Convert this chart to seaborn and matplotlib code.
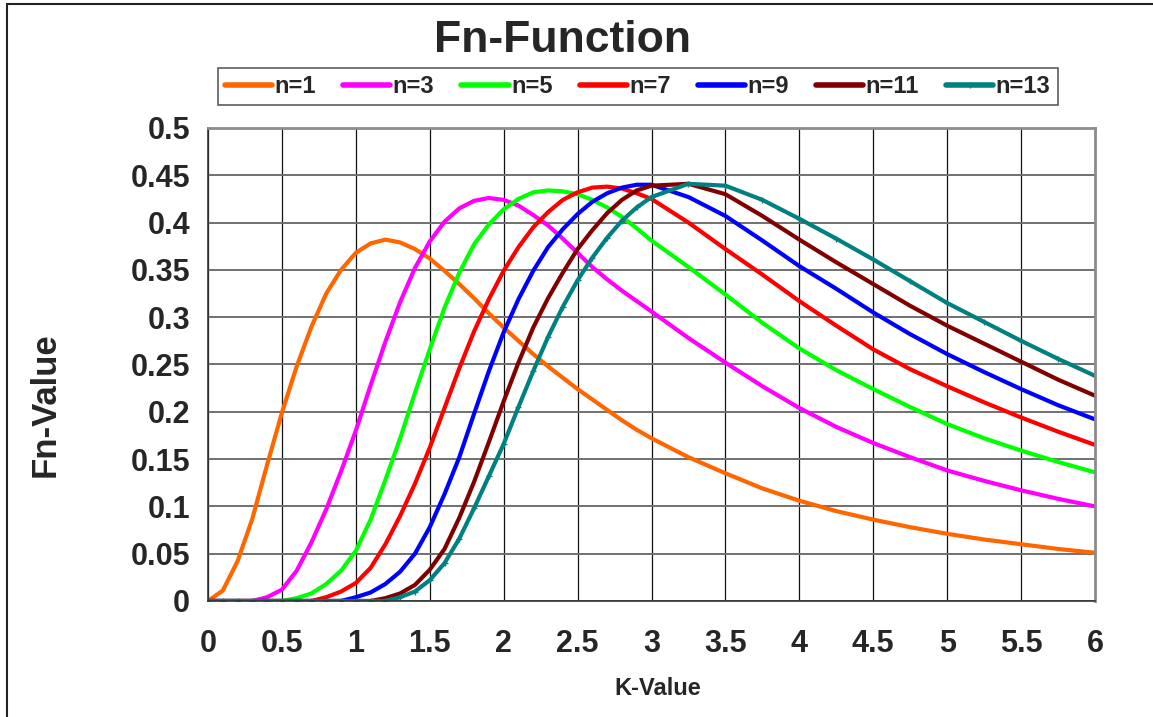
import numpy as np
import pandas as pd
import matplotlib
matplotlib.use("Agg")
import matplotlib.pyplot as plt
import seaborn as sns
from matplotlib.lines import Line2D

# --- DATA ---
K = [0.0, 0.1, 0.2, 0.3, 0.4, 0.5, 0.6, 0.7, 0.8, 0.9,
     1.0, 1.1, 1.2, 1.3, 1.4, 1.5, 1.6, 1.7, 1.8, 1.9,
     2.0, 2.1, 2.2, 2.3, 2.4, 2.5, 2.6, 2.7, 2.8, 2.9,
     3.0, 3.25, 3.5, 3.75, 4.0, 4.25, 4.5, 4.75, 5.0, 5.25,
     5.5, 5.75, 6.0]

n1 = [0.000, 0.011, 0.042, 0.087, 0.144, 0.199, 0.248, 0.290, 0.325, 0.350,
      0.368, 0.378, 0.382, 0.379, 0.372, 0.362, 0.349, 0.335, 0.320, 0.304,
      0.289, 0.275, 0.261, 0.248, 0.236, 0.224, 0.213, 0.202, 0.191, 0.181,
      0.172, 0.152, 0.135, 0.119, 0.106, 0.095, 0.086, 0.078, 0.071, 0.065,
      0.060, 0.055, 0.051]
n3 = [0.000, 0.000, 0.000, 0.000, 0.004, 0.012, 0.032, 0.062, 0.097, 0.137,
      0.180, 0.228, 0.274, 0.316, 0.352, 0.380, 0.401, 0.415, 0.423, 0.426,
      0.424, 0.418, 0.408, 0.397, 0.383, 0.368, 0.353, 0.340, 0.328, 0.317,
      0.306, 0.278, 0.252, 0.227, 0.204, 0.184, 0.167, 0.152, 0.138, 0.127,
      0.117, 0.108, 0.100]
n5 = [0.000, 0.000, 0.000, 0.000, 0.000, 0.000, 0.003, 0.008, 0.018, 0.032,
      0.053, 0.086, 0.128, 0.172, 0.220, 0.266, 0.310, 0.347, 0.377, 0.398,
      0.414, 0.425, 0.432, 0.434, 0.433, 0.430, 0.424, 0.416, 0.406, 0.394,
      0.381, 0.353, 0.324, 0.294, 0.267, 0.244, 0.224, 0.205, 0.187, 0.172,
      0.159, 0.147, 0.136]
n7 = [0.000, 0.000, 0.000, 0.000, 0.000, 0.000, 0.000, 0.000, 0.004, 0.010,
      0.019, 0.035, 0.060, 0.090, 0.124, 0.162, 0.204, 0.246, 0.285, 0.319,
      0.349, 0.374, 0.395, 0.411, 0.424, 0.432, 0.437, 0.438, 0.436, 0.431,
      0.425, 0.400, 0.372, 0.345, 0.317, 0.291, 0.266, 0.245, 0.227, 0.210,
      0.194, 0.179, 0.165]
n9 = [0.000, 0.000, 0.000, 0.000, 0.000, 0.000, 0.000, 0.000, 0.000, 0.000,
      0.004, 0.009, 0.018, 0.031, 0.050, 0.078, 0.113, 0.152, 0.198, 0.243,
      0.284, 0.319, 0.349, 0.374, 0.393, 0.409, 0.422, 0.431, 0.437, 0.440,
      0.440, 0.427, 0.407, 0.381, 0.354, 0.330, 0.305, 0.282, 0.261, 0.242,
      0.224, 0.207, 0.192]
n11 = [0.000, 0.000, 0.000, 0.000, 0.000, 0.000, 0.000, 0.000, 0.000, 0.000,
       0.000, 0.000, 0.003, 0.008, 0.017, 0.033, 0.055, 0.088, 0.126, 0.168,
       0.211, 0.252, 0.289, 0.320, 0.347, 0.372, 0.392, 0.410, 0.424, 0.434,
       0.439, 0.441, 0.430, 0.407, 0.382, 0.358, 0.335, 0.312, 0.291, 0.272,
       0.253, 0.234, 0.217]
n13 = [0.000, 0.000, 0.000, 0.000, 0.000, 0.000, 0.000, 0.000, 0.000, 0.000,
       0.000, 0.000, 0.000, 0.004, 0.010, 0.022, 0.040, 0.066, 0.098, 0.132,
       0.166, 0.205, 0.243, 0.279, 0.311, 0.339, 0.363, 0.384, 0.402, 0.416,
       0.427, 0.441, 0.439, 0.424, 0.404, 0.383, 0.361, 0.338, 0.315, 0.295,
       0.275, 0.256, 0.238]

series_names = ["n=1", "n=3", "n=5", "n=7", "n=9", "n=11", "n=13"]
series_values = [n1, n3, n5, n7, n9, n11, n13]
colors = ["#FF6600", "#FF00FF", "#00FF00", "#FF0000", "#0000FF", "#800000", "#008080"]

x_ticks = [0, 0.5, 1, 1.5, 2, 2.5, 3, 3.5, 4, 4.5, 5, 5.5, 6]
y_ticks = [0, 0.05, 0.1, 0.15, 0.2, 0.25, 0.3, 0.35, 0.4, 0.45, 0.5]

# long-form table for seaborn
df = pd.concat(
    [pd.DataFrame({"K": K, "Fn": vals, "n": name}) for name, vals in zip(series_names, series_values)],
    ignore_index=True,
)

sns.set_style("white")
plt.rcParams["font.family"] = ["Liberation Sans", "DejaVu Sans"]

fig = plt.figure(figsize=(11.53, 7.17), dpi=100)
ax = fig.add_axes([0.1804, 0.1618, 0.7693, 0.6597])

palette = dict(zip(series_names, colors))
sns.lineplot(data=df, x="K", y="Fn", hue="n", palette=palette, hue_order=series_names,
             linewidth=3, legend=False, ax=ax, sort=False)
# teal series carries small cross markers in the original
teal = ax.lines[-1]
teal.set_marker("+")
teal.set_markersize(4)
teal.set_markeredgewidth(1)
teal.set_markeredgecolor(colors[-1])

ax.set_xlim(0, 6)
ax.set_ylim(0, 0.5)
ax.set_xticks(x_ticks)
ax.set_yticks(y_ticks)
ax.set_xticklabels([f"{v:g}" for v in x_ticks], fontsize=22, fontweight="bold")
ax.set_yticklabels([f"{v:g}" for v in y_ticks], fontsize=22, fontweight="bold")
ax.tick_params(axis="x", direction="out", length=10, width=1, color="#333333", pad=10)
ax.tick_params(axis="y", direction="out", length=7, width=1, color="#333333", pad=6)

# gridlines: grey horizontals, thin black verticals
ax.yaxis.grid(True, color="#707070", linewidth=1.4)
ax.xaxis.grid(True, color="#111111", linewidth=0.9)
ax.set_axisbelow(True)

for side in ["top", "right"]:
    ax.spines[side].set_color("#8c8c8c")
    ax.spines[side].set_linewidth(2)
for side in ["left", "bottom"]:
    ax.spines[side].set_color("#333333")
    ax.spines[side].set_linewidth(1.2)

ax.set_xlabel("K-Value", fontsize=17, fontweight="bold")
ax.xaxis.set_label_coords(0.507, -0.16)
ax.set_ylabel("Fn-Value", fontsize=25, fontweight="bold")
ax.yaxis.set_label_coords(-0.165, 0.415)

fig.text(0.488, 0.943, "Fn-Function", fontsize=32, fontweight="bold", ha="center", va="center")

handles = [Line2D([0], [0], color=c, lw=4, marker="+" if name == "n=13" else None, markersize=4)
           for c, name in zip(colors, series_names)]
leg = fig.legend(handles, series_names, ncol=7, loc="center",
                 bbox_to_anchor=(0.553, 0.8795), frameon=True, fancybox=False,
                 prop={"size": 17, "weight": "bold"}, handlelength=2.0,
                 handletextpad=0.1, columnspacing=1.15, borderpad=0.3)
leg.get_frame().set_edgecolor("#333333")
leg.get_frame().set_linewidth(1.2)

# outer chart border (left and top edges visible in the reference)
fig.add_artist(Line2D([0.0061, 0.0061], [0, 0.9944], color="#222222", lw=1.5, transform=fig.transFigure))
fig.add_artist(Line2D([0.0061, 1.0], [0.9944, 0.9944], color="#222222", lw=1.5, transform=fig.transFigure))

fig.savefig("out.png", dpi=100)
